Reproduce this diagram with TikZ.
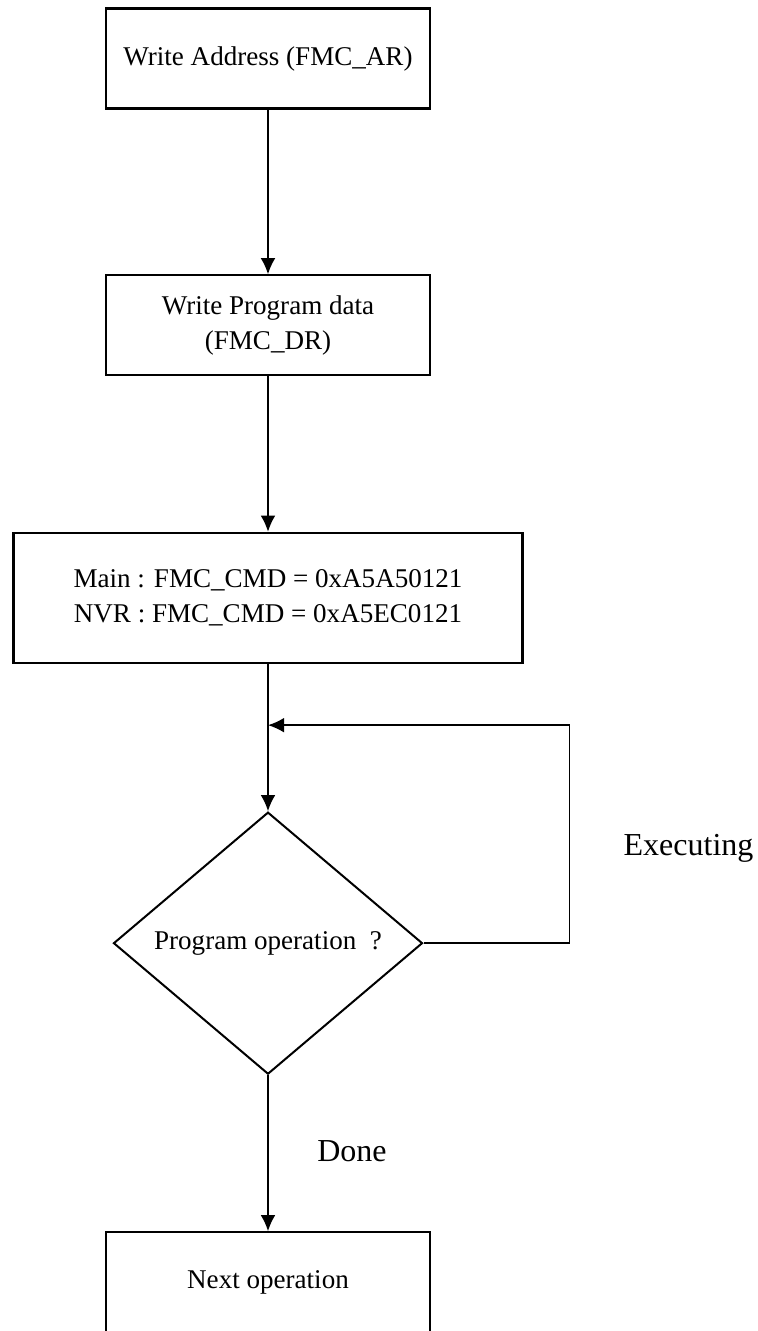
\documentclass[tikz,border=0pt]{standalone}
\usepackage{fontspec}
\setmainfont{Liberation Serif}
\usetikzlibrary{positioning}
\usetikzlibrary{shapes.geometric,arrows.meta,calc}

\begin{document}
\begin{tikzpicture}[x=0.75pt, y=-0.75pt,
  every node/.style = {align=center, font=\fontsize{20.3}{26.5}\selectfont},
  flowbox/.style = {shape=rectangle, draw, line width=1.6pt,
    minimum width=243pt, minimum height=75pt, inner sep=0pt},
  widebox/.style = {flowbox, minimum width=381.75pt, minimum height=97.5pt},
  decision/.style = {shape=diamond, draw, line width=1.5pt, aspect=1.18,
    inner sep=0pt, minimum width=231.75pt, minimum height=196.5pt},
  flowlabel/.style = {font=\fontsize{24}{28}\selectfont, inner sep=0pt},
  flowarrow/.style = {draw, line width=1.2pt, -{Latex[length=12pt,width=11pt]}}
  ]
  \useasboundingbox (0,0) rectangle (757,1331);
  \node[flowbox] (addr) at (268,58.5) {Write Address (FMC\_AR)};
  \node[flowbox, below=123.5pt of addr] (data) {Write Program data\\(FMC\_DR)};
  \node[widebox, below=116.5pt of data] (cmd)
    {Main : FMC\_CMD = 0xA5A50121\\NVR : FMC\_CMD = 0xA5EC0121};
  \node[decision, below=110.5pt of cmd] (check) {Program operation~~?};
  \node[flowbox, below=117pt of check] (next) {Next operation};
  \coordinate[above=64.5pt of check.north] (back);

  \draw[flowarrow] (addr) -- (data);
  \draw[flowarrow] (data) -- (cmd);
  \draw[flowarrow] (cmd) -- (check);
  \draw[flowarrow] (check) -- (next);
  \draw[flowarrow] (check.east) -- ++(146,0) |- (back);

  \node[flowlabel] (exec) at ($(check.east)+(265,-95)$) {Executing};
  \node[flowlabel] (done) at ($(check.south)+(84,76)$) {Done};
\end{tikzpicture}
\end{document}
